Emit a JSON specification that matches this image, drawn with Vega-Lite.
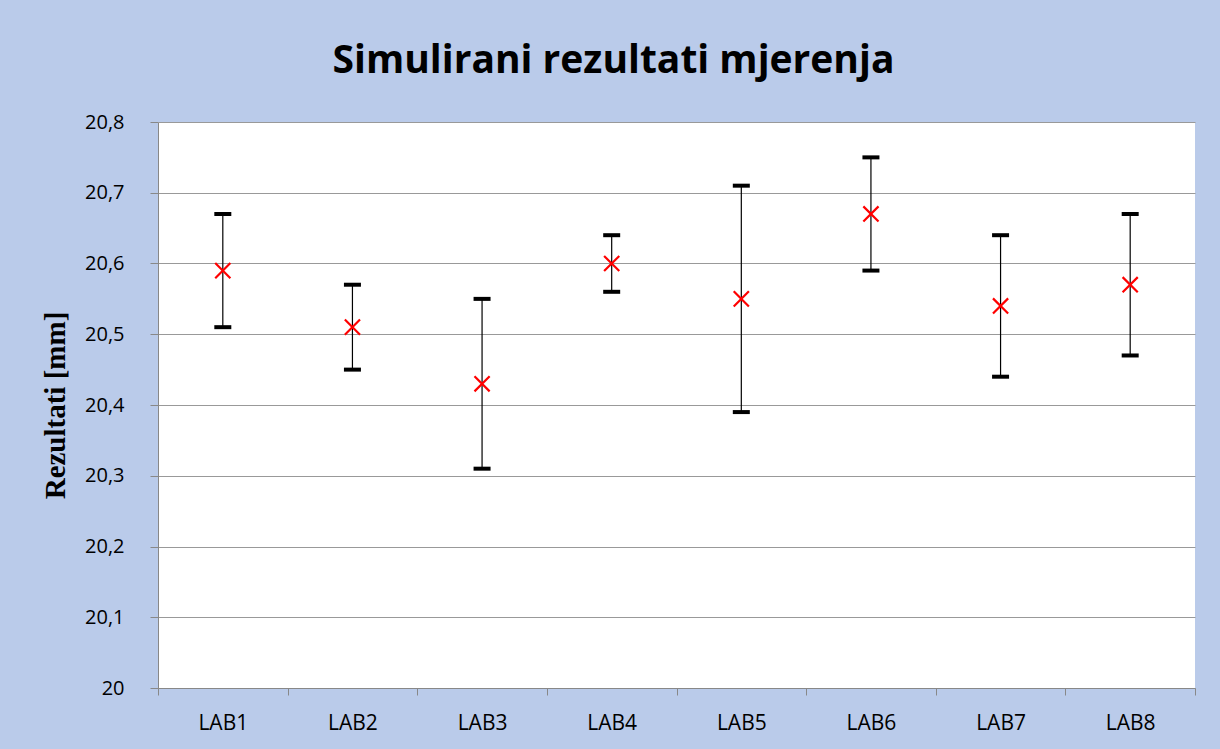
{
  "$schema": "https://vega.github.io/schema/vega-lite/v6.json",
  "autosize": {"type": "none"},
  "width": 1037,
  "height": 566,
  "padding": {"left": 158, "top": 122, "right": 25, "bottom": 61},
  "background": "#bacbea",
  "title": {
    "text": "Simulirani rezultati mjerenja",
    "font": "Open Sans",
    "fontSize": 39,
    "fontWeight": "bold",
    "color": "#000000",
    "anchor": "middle",
    "baseline": "alphabetic",
    "offset": 0,
    "dx": -63
  },
  "data": {
    "values": [
      {"lab": "LAB1", "mean": 20.59, "low": 20.51, "high": 20.67},
      {"lab": "LAB2", "mean": 20.51, "low": 20.45, "high": 20.57},
      {"lab": "LAB3", "mean": 20.43, "low": 20.31, "high": 20.55},
      {"lab": "LAB4", "mean": 20.60, "low": 20.56, "high": 20.64},
      {"lab": "LAB5", "mean": 20.55, "low": 20.39, "high": 20.71},
      {"lab": "LAB6", "mean": 20.67, "low": 20.59, "high": 20.75},
      {"lab": "LAB7", "mean": 20.54, "low": 20.44, "high": 20.64},
      {"lab": "LAB8", "mean": 20.57, "low": 20.47, "high": 20.67}
    ]
  },
  "encoding": {
    "x": {
      "field": "lab",
      "type": "nominal",
      "sort": null,
      "scale": {"paddingInner": 0, "paddingOuter": 0},
      "axis": {
        "title": null,
        "labelAngle": 0,
        "labelFont": "Open Sans",
        "labelFontSize": 21,
        "labelColor": "#000000",
        "labelPadding": 17,
        "tickBand": "extent",
        "tickSize": 7,
        "tickColor": "#888888",
        "domainColor": "#888888",
        "grid": false
      }
    }
  },
  "layer": [
    {
      "mark": {"type": "rule", "color": "#000000", "strokeWidth": 1.2},
      "encoding": {
        "y": {
          "field": "low",
          "type": "quantitative",
          "scale": {"domain": [20, 20.8], "zero": false, "nice": false},
          "axis": {
            "title": "Rezultati [mm]",
            "titleFont": "Liberation Serif",
            "titleFontSize": 29,
            "titleFontWeight": "bold",
            "titleColor": "#000000",
            "titlePadding": 14,
            "values": [20, 20.1, 20.2, 20.3, 20.4, 20.5, 20.6, 20.7, 20.8],
            "labelExpr": "replace(format(datum.value, datum.value == 20 ? 'd' : '.1f'), '.', ',')",
            "labelFont": "Open Sans",
            "labelFontSize": 20,
            "labelColor": "#000000",
            "labelPadding": 26,
            "tickSize": 8,
            "tickColor": "#888888",
            "domainColor": "#888888",
            "gridColor": "#999999",
            "gridWidth": 1
          }
        },
        "y2": {"field": "high"}
      }
    },
    {
      "mark": {"type": "tick", "color": "#000000", "thickness": 4, "size": 17, "opacity": 1},
      "encoding": {"y": {"field": "low", "type": "quantitative"}}
    },
    {
      "mark": {"type": "tick", "color": "#000000", "thickness": 4, "size": 17, "opacity": 1},
      "encoding": {"y": {"field": "high", "type": "quantitative"}}
    },
    {
      "mark": {
        "type": "point",
        "shape": "M-1,-1L1,1M1,-1L-1,1",
        "filled": false,
        "stroke": "#ff0000",
        "strokeWidth": 2.2,
        "size": 230,
        "opacity": 1
      },
      "encoding": {"y": {"field": "mean", "type": "quantitative"}}
    }
  ],
  "config": {
    "view": {"fill": "#ffffff", "stroke": null}
  }
}
